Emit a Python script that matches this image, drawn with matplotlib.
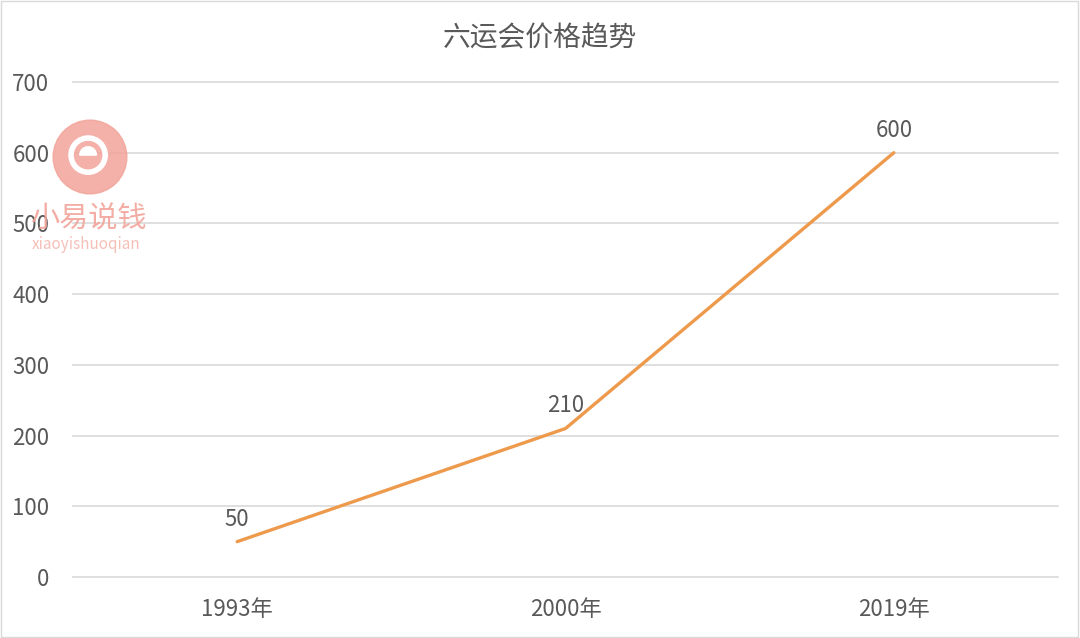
import matplotlib
matplotlib.use("Agg")
import matplotlib.pyplot as plt
from matplotlib.patches import Rectangle, Circle, Wedge

plt.rcParams['font.family'] = ['Noto Sans CJK SC', 'DejaVu Sans']

title = "六运会价格趋势"
categories = ["1993年", "2000年", "2019年"]
values = [50, 210, 600]
yticks = [0, 100, 200, 300, 400, 500, 600, 700]

line_color = "#EE9A4D"
text_color = "#595959"
grid_color = "#D9D9D9"

fig = plt.figure(figsize=(10.8, 6.38), dpi=100)
ax = fig.add_axes([73/1080, 61/638, 985/1080, 495/638])

x = list(range(len(categories)))
ax.plot(x, values, color=line_color, lw=2.4, solid_capstyle='round', zorder=3)
for xi, v in zip(x, values):
    ax.annotate(str(v), (xi, v), xytext=(0, 8), textcoords='offset points',
                ha='center', va='bottom', fontsize=16, color=text_color)

ax.set_xlim(-0.5, len(categories) - 0.5)
ax.set_ylim(0, 700)
ax.set_yticks(yticks)
ax.set_xticks(x)
ax.set_xticklabels(categories)
ax.yaxis.grid(True, color=grid_color, lw=1.2)
for gl in ax.get_ygridlines():
    gl.set_clip_on(False)
ax.set_axisbelow(True)
for s in ax.spines.values():
    s.set_visible(False)
ax.tick_params(axis='both', length=0, labelsize=16, labelcolor=text_color)
ax.tick_params(axis='y', pad=17)
ax.tick_params(axis='x', pad=15)

fig.text(540/1080, 1 - 38/638, title, ha='center', va='center', fontsize=20, color=text_color)

# watermark
wm = "#F2A49A"
circ_ax = fig.add_axes([52/1080, 1 - 195/638, 76/1080, 76/638])
circ_ax.set_xlim(-1, 1); circ_ax.set_ylim(-1, 1); circ_ax.set_aspect('equal'); circ_ax.axis('off')
circ_ax.add_patch(Circle((0, 0), 0.97, color=wm, alpha=0.85))
circ_ax.add_patch(Circle((-0.05, 0.05), 0.45, fill=False, ec='white', lw=4))
circ_ax.add_patch(Wedge((-0.05, 0.05), 0.22, 0, 180, color='white'))
circ_ax.patch.set_alpha(0)
fig.text(88/1080, 1 - 220/638, "小易说钱", ha='center', va='center', fontsize=21, color=wm, alpha=0.9)
fig.text(86/1080, 1 - 245/638, "xiaoyishuoqian", ha='center', va='center', fontsize=11, color=wm, alpha=0.7)

fig.patches.append(Rectangle((0.001, 0.002), 0.997, 0.996, transform=fig.transFigure,
                             fill=False, ec="#D9D9D9", lw=1))

fig.savefig("out.png", dpi=100)
